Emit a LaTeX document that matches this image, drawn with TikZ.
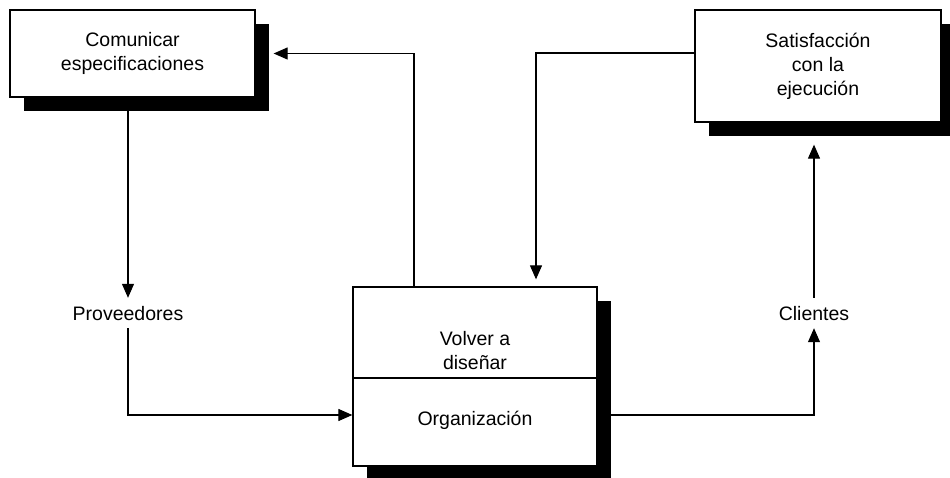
\documentclass[tikz,border=0pt]{standalone}
\usepackage{fontspec}
\setmainfont{Liberation Sans}
\usetikzlibrary{arrows.meta,shadows}
\begin{document}
\begin{tikzpicture}[x=1pt,y=-1pt,
  lbl/.style={font=\fontsize{19.5}{24}\selectfont, align=center},
  box/.style={lbl, draw=black, line width=1.3pt, fill=white,
    drop shadow={shadow xshift=14pt, shadow yshift=-14pt, opacity=1, fill=black}},
  plain/.style={lbl, inner xsep=2pt, inner ysep=8pt, text height=14pt, text depth=0pt},
  conn/.style={line width=1.1pt, -{Triangle[length=14pt,width=12pt]}}
]
\useasboundingbox (0,0) rectangle (950,478);
\node[box, minimum width=245pt, minimum height=87pt] (com) at (132.5,53.5) {Comunicar\\especificaciones};
\node[box, minimum width=246pt, minimum height=112pt] (sat) at (818,66) {Satisfacción\\con la\\ejecución};
\node[box, minimum width=244pt, minimum height=179pt] (ctr) at (475,376.5) {};
\coordinate (div) at (475,378);
\coordinate (mid) at (475,415);
\draw[line width=1.3pt] (ctr.west |- div) -- (ctr.east |- div);
\node[lbl] (vol) at (475,351) {Volver a\\diseñar};
\node[lbl] (org) at (475,420) {Organización};
\node[plain] (prov) at (128,313) {Proveedores};
\node[plain] (cli) at (814,313) {Clientes};
\coordinate (j1) at (536,0);
\coordinate (j2) at (414,0);
\draw[conn] (prov.north |- com.south) -- (prov.north);
\draw[conn] (prov.south) |- (ctr.west |- mid);
\draw[conn] (ctr.east |- mid) -| (cli.south);
\draw[conn, shorten >=22pt] (cli.north) -- (cli.north |- sat.south);
\draw[conn, shorten >=7pt] ([yshift=13pt]sat.west) -| (j1 |- ctr.north);
\draw[conn, shorten >=18pt] (j2 |- ctr.north) |- (com.east);
\end{tikzpicture}
\end{document}
